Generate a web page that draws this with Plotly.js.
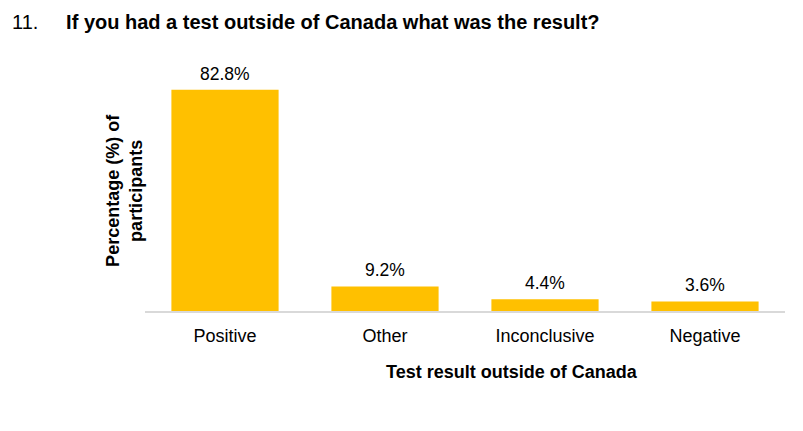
<!DOCTYPE html>
<html>
<head>
<meta charset="utf-8">
<script src="https://cdn.plot.ly/plotly-3.0.1.min.js"></script>
<style>html,body{margin:0;padding:0;background:#fff;}#chart{width:803px;height:431px;}</style>
</head>
<body>
<div id="chart"></div>
<script>
const categories = ["Positive", "Other", "Inconclusive", "Negative"];
const percentages = [82.8, 9.2, 4.4, 3.6];
const valueLabels = ["82.8%", "9.2%", "4.4%", "3.6%"];

const FONT = "Liberation Sans, Arial, sans-serif";
const nb = "\u00A0";

const trace = {
  type: "bar",
  x: categories,
  y: percentages,
  marker: {color: "#FFC000"},
  hoverinfo: "skip",
  showlegend: false
};

const annotations = categories.map((c, i) => ({
  x: c, y: percentages[i], xref: "x", yref: "y",
  text: valueLabels[i], showarrow: false,
  yanchor: "bottom", yshift: 4,
  font: {family: FONT, size: 17.5, color: "#000"}
}));

// y-axis title (two lines, rotated)
annotations.push({
  xref: "paper", yref: "paper",
  x: -0.033, y: 0.5, xanchor: "center", yanchor: "middle",
  textangle: -90,
  text: "<b>Percentage (%) of<br>participants</b>",
  showarrow: false,
  font: {family: FONT, size: 18, color: "#000"}
});

// x-axis title (offset to the right as in the reference)
annotations.push({
  xref: "paper", yref: "paper",
  x: 0.5727, y: -0.254, xanchor: "center", yanchor: "middle",
  text: "<b>Test result outside of Canada</b>",
  showarrow: false,
  font: {family: FONT, size: 18, color: "#000"}
});

const layout = {
  width: 803, height: 431,
  paper_bgcolor: "#fff", plot_bgcolor: "#fff",
  margin: {l: 145, r: 18, t: 69, b: 120},
  font: {family: FONT, color: "#000"},
  title: {
    text: "11." + nb.repeat(5) + "<b>If you had a test outside of Canada what was the result?</b>",
    x: 12/803, xanchor: "left", xref: "container",
    y: 1 - 22/431, yanchor: "middle", yref: "container",
    font: {family: FONT, size: 20, color: "#000"}
  },
  bargap: 0.33,
  xaxis: {
    type: "category",
    showline: true, linecolor: "#D9D9D9", linewidth: 1.5,
    showgrid: false, zeroline: false, ticks: "",
    tickfont: {family: FONT, size: 18, color: "#000"},
    ticklabelstandoff: 8
  },
  yaxis: {
    range: [0, 90.6],
    showline: false, showgrid: false, zeroline: false,
    showticklabels: false, ticks: "", fixedrange: true
  },
  annotations: annotations
};

Plotly.newPlot("chart", [trace], layout, {displayModeBar: false, staticPlot: true});
</script>
</body>
</html>
